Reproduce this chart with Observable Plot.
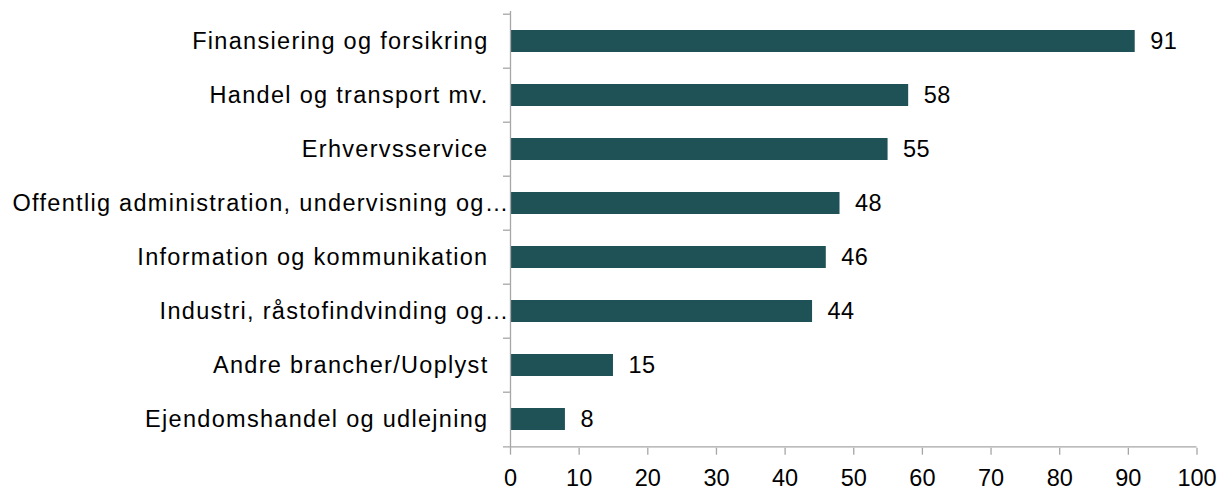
<!DOCTYPE html>
<html>
<head>
<meta charset="utf-8">
<script src="https://cdn.jsdelivr.net/npm/d3@7"></script>
<script src="https://cdn.jsdelivr.net/npm/@observablehq/plot@0.6"></script>
<style>
  html, body { margin: 0; padding: 0; background: #fff; }
  #chart svg { display: block; }
  .cat-label text { letter-spacing: 1.3px; }
  .val-label text { letter-spacing: 0.4px; }
</style>
</head>
<body>
<div id="chart"></div>
<script>
const categories = [
  "Finansiering og forsikring",
  "Handel og transport mv.",
  "Erhvervsservice",
  "Offentlig administration, undervisning og…",
  "Information og kommunikation",
  "Industri, råstofindvinding og…",
  "Andre brancher/Uoplyst",
  "Ejendomshandel og udlejning"
];
const values = [91, 58, 55, 48, 46, 44, 15, 8];
const xTicks = [0, 10, 20, 30, 40, 50, 60, 70, 80, 90, 100];

const data = categories.map((c, i) => ({category: c, value: values[i]}));

const W = 1223, H = 491;
const mL = 510, mR = 26.5, mT = 11, mB = 43.3;
const step = (H - mT - mB) / categories.length;
const pxPerUnit = (W - mL - mR) / 100;
const tickLen = 7 / pxPerUnit;

const barColor = "#1F5256";
const axisColor = "#A6A6A6";
const font = "'Liberation Sans', Arial, sans-serif";
const fs = 23.5;

const chart = Plot.plot({
  width: W,
  height: H,
  marginLeft: mL,
  marginRight: mR,
  marginTop: mT,
  marginBottom: mB,
  style: {fontFamily: font, color: "#000", background: "#fff"},
  x: {domain: [0, 100], axis: null},
  y: {domain: categories, paddingInner: 0.6, paddingOuter: 0.3, axis: null},
  marks: [
    Plot.barX(data, {x: "value", y: "category", fill: barColor}),
    // vertical axis line
    Plot.ruleX([0], {stroke: axisColor, strokeWidth: 1.3}),
    // category boundary ticks (top of each band)
    Plot.ruleY(categories, {y: d => d, x1: -tickLen, x2: 0, dy: -step / 2, stroke: axisColor, strokeWidth: 1.3, clip: false}),
    // bottom axis line
    Plot.ruleY([categories[categories.length - 1]], {y: d => d, x1: -tickLen, x2: 100, dy: step / 2, stroke: axisColor, strokeWidth: 1.3, clip: false}),
    // x ticks
    Plot.axisX(xTicks, {
      tickSize: 7, stroke: axisColor, strokeWidth: 1.3, tickPadding: 14,
      fill: "#000", fontSize: fs, label: null, tickFormat: d => String(d)
    }),
    // category labels
    Plot.text(categories.filter(c => !c.endsWith("…")), {
      x: 0, y: d => d, text: d => d, textAnchor: "end", dx: -22, fill: "#000", fontSize: fs, className: "cat-label"
    }),
    Plot.text(categories.filter(c => c.endsWith("…")), {
      x: 0, y: d => d, text: d => d, textAnchor: "end", dx: -1, fill: "#000", fontSize: fs, className: "cat-label"
    }),
    // value labels
    Plot.text(data, {
      x: "value", y: "category", text: d => String(d.value), textAnchor: "start", dx: 15, fill: "#000", fontSize: fs, className: "val-label"
    })
  ]
});
document.getElementById("chart").appendChild(chart);
</script>
</body>
</html>
